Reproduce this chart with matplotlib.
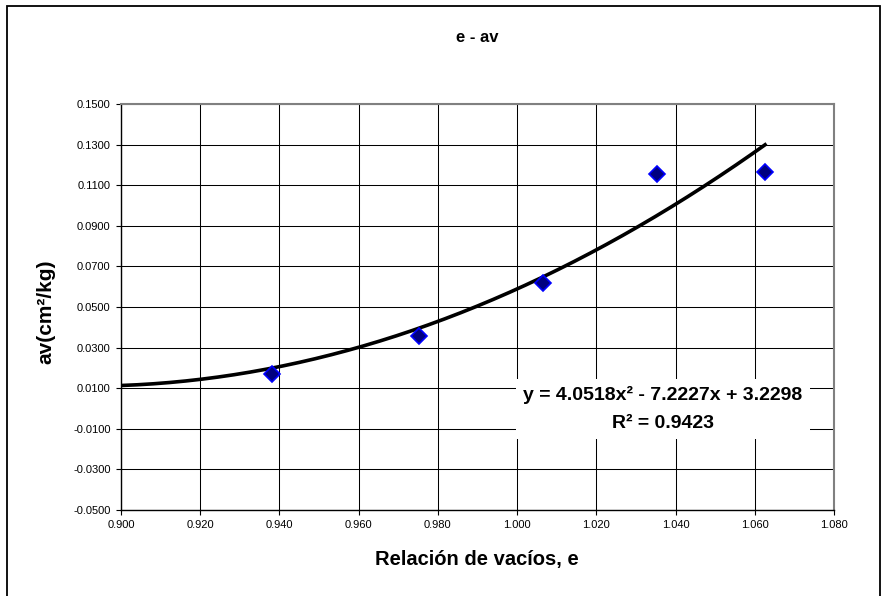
"""
e - av chart: void ratio vs coefficient of compressibility,
with a 2nd order polynomial trend line
"""

import numpy as np
import matplotlib
matplotlib.use("Agg")
import matplotlib.pyplot as plt
from matplotlib.patches import Rectangle

plt.rcParams['font.family'] = ['Liberation Sans', 'DejaVu Sans']

# data
void_ratio = [0.9382, 0.9752, 1.0065, 1.0353, 1.0626]
av = [0.0168, 0.0357, 0.0618, 0.1155, 0.1164]

# trend line coefficients (from the chart label)
coefs = [4.0518, -7.2227, 3.2298]
r2 = 0.9423

x_ticks = [0.900, 0.920, 0.940, 0.960, 0.980, 1.000, 1.020, 1.040, 1.060, 1.080]
y_ticks = [-0.05, -0.03, -0.01, 0.01, 0.03, 0.05, 0.07, 0.09, 0.11, 0.13, 0.15]

fig = plt.figure(figsize=(8.86, 5.96), dpi=100)
ax = fig.add_axes([121/886, 1 - 510/596, (834 - 121)/886, (510 - 104)/596])

# outer chart frame
fig.patches.append(Rectangle((7/886, -0.1), (880 - 7)/886, 1.1 - 6/596,
                             transform=fig.transFigure, fill=False,
                             edgecolor='black', linewidth=1.3, clip_on=False))

# trend line
x_fit = np.linspace(0.900, max(void_ratio), 200)
y_fit = np.polyval(coefs, x_fit)
ax.plot(x_fit, y_fit, color='black', linewidth=2.6, zorder=3)

# points
ax.plot(void_ratio, av, linestyle='none', marker='D', markersize=8.5,
        markerfacecolor='#000080', markeredgecolor='#0000FF',
        markeredgewidth=1.2, zorder=4)

ax.set_xlim(0.900, 1.080)
ax.set_ylim(-0.05, 0.15)
ax.set_xticks(x_ticks)
ax.set_yticks(y_ticks)
ax.set_xticklabels(['%.3f' % v for v in x_ticks])
ax.set_yticklabels(['%.4f' % v for v in y_ticks])
ax.tick_params(direction='out', length=3.5, width=0.8, labelsize=8, pad=4)
ax.grid(True, color='black', linewidth=0.75)
ax.set_axisbelow(True)

for s in ['left', 'bottom']:
    ax.spines[s].set_color('black')
    ax.spines[s].set_linewidth(1.0)
for s in ['top', 'right']:
    ax.spines[s].set_color('#808080')
    ax.spines[s].set_linewidth(1.5)

# equation label
eq = 'y = %.4fx² - %.4fx + %.4f\nR² = %.4f' % (coefs[0], -coefs[1], coefs[2], r2)
fig.text(663/886, 1 - 409/596, eq, ha='center', va='center',
         multialignment='center', fontsize=14, fontweight='bold',
         linespacing=1.9,
         bbox=dict(facecolor='white', edgecolor='none', pad=5), zorder=5)

fig.text(477/886, 1 - 38/596, 'e - av', ha='center', va='center',
         fontsize=12, fontweight='bold')
fig.text(477/886, 1 - 560/596, 'Relación de vacíos, e', ha='center',
         va='center', fontsize=14.5, fontweight='bold')
fig.text(46/886, 1 - 312/596, 'av(cm²/kg)', ha='center', va='center',
         rotation=90, fontsize=15, fontweight='bold')

fig.savefig('out.png', dpi=100)
